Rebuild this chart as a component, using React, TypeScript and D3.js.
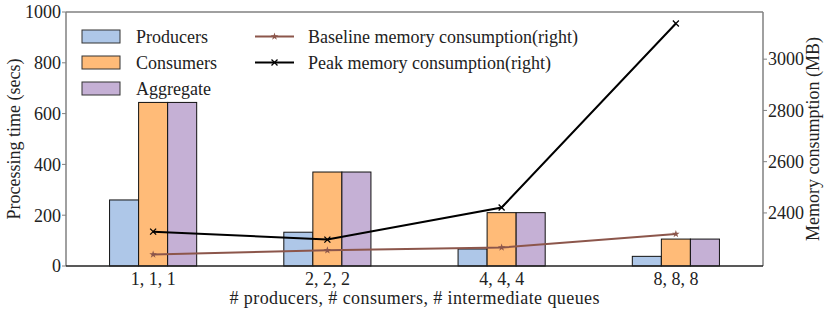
import React from "react";
import * as d3 from "d3";

const categories = ["1, 1, 1", "2, 2, 2", "4, 4, 4", "8, 8, 8"];
const producers = [260, 133, 67, 38];
const consumers = [644, 370, 210, 106];
const aggregate = [644, 370, 210, 106];
const baseline = [2238, 2254, 2265, 2318];
const peak = [2327, 2296, 2421, 3139];
const leftTicks = [0, 200, 400, 600, 800, 1000];
const rightTicks = [2400, 2600, 2800, 3000];

const FONT = "Liberation Serif, Times New Roman, DejaVu Serif, serif";
const W = 830, H = 314;
const L = 66, R = 763, T = 12, B = 266;
const FS = 18;

export default function App() {
  const x = d3.scaleLinear().domain([-0.5, 3.5]).range([L, R]);
  const yL = d3.scaleLinear().domain([0, 1000]).range([B, T]);
  const all = [...baseline, ...peak];
  const mn = d3.min(all)!, mx = d3.max(all)!;
  const pad = (mx - mn) * 0.05;
  const yR = d3.scaleLinear().domain([mn - pad, mx + pad]).range([B, T]);
  const bw = 1 / 6;
  const series = [
    { name: "Producers", vals: producers, color: "#aec7e8", off: -bw },
    { name: "Consumers", vals: consumers, color: "#ffbb78", off: 0 },
    { name: "Aggregate", vals: aggregate, color: "#c5b0d5", off: bw },
  ];
  const line = d3
    .line<number>()
    .x((_, i) => x(i))
    .y((d) => yR(d));
  const starPath = d3.symbol(d3.symbolStar, 18)()!;
  const xMark = (cx: number, cy: number, s = 3) =>
    `M${cx - s},${cy - s}L${cx + s},${cy + s}M${cx - s},${cy + s}L${cx + s},${cy - s}`;
  const spine = "#808080";
  const txt = { fontSize: FS, fill: "#222", style: { fontFamily: FONT } } as const;
  return (
    <svg width={W} height={H} style={{ display: "block", position: "absolute", left: 0, top: 0, fontFamily: FONT }}>
      <rect width={W} height={H} fill="#fff" />
      {series.map((s) =>
        s.vals.map((v, i) => (
          <rect
            key={s.name + i}
            x={x(i + s.off - bw / 2)}
            y={yL(v)}
            width={x(bw) - x(0)}
            height={yL(0) - yL(v)}
            fill={s.color}
            stroke="#111"
            strokeWidth={1}
          />
        ))
      )}
      <path d={line(baseline)!} fill="none" stroke="#8c564b" strokeWidth={2} />
      {baseline.map((v, i) => (
        <path key={"b" + i} d={starPath} transform={`translate(${x(i)},${yR(v)})`} fill="#8c564b" />
      ))}
      <path d={line(peak)!} fill="none" stroke="#000" strokeWidth={2} />
      {peak.map((v, i) => (
        <path key={"p" + i} d={xMark(x(i), yR(v))} stroke="#000" strokeWidth={1.3} />
      ))}
      <line x1={L} y1={T} x2={R} y2={T} stroke={spine} strokeWidth={1.5} />
      <line x1={L} y1={T} x2={L} y2={B} stroke={spine} strokeWidth={1.5} />
      <line x1={R} y1={T} x2={R} y2={B} stroke={spine} strokeWidth={1.5} />
      <line x1={L} y1={B} x2={R} y2={B} stroke="#222" strokeWidth={1.5} />
      {leftTicks.map((t) => (
        <g key={"l" + t}>
          <line x1={L - 4} x2={L} y1={yL(t)} y2={yL(t)} stroke={spine} strokeWidth={1} />
          <text x={L - 5} y={yL(t)} dy="0.35em" textAnchor="end" {...txt}>
            {t}
          </text>
        </g>
      ))}
      {rightTicks.map((t) => (
        <g key={"r" + t}>
          <line x1={R} x2={R + 4} y1={yR(t)} y2={yR(t)} stroke={spine} strokeWidth={1} />
          <text x={R + 5} y={yR(t)} dy="0.35em" textAnchor="start" {...txt}>
            {t}
          </text>
        </g>
      ))}
      {categories.map((c, i) => (
        <text key={c} x={x(i)} y={285} textAnchor="middle" {...txt}>
          {c}
        </text>
      ))}
      <text x={(L + R) / 2} y={304} textAnchor="middle" textLength={370} lengthAdjust="spacing" {...txt}>
        # producers, # consumers, # intermediate queues
      </text>
      <text transform={`translate(20,${(T + B) / 2}) rotate(-90)`} textAnchor="middle" {...txt}>
        Processing time (secs)
      </text>
      <text transform={`translate(819,${(T + B) / 2}) rotate(-90)`} textAnchor="middle" {...txt}>
        Memory consumption (MB)
      </text>
      {series.map((s, i) => (
        <g key={"lg" + s.name}>
          <rect x={82} y={30 + i * 26} width={38} height={13} fill={s.color} stroke="#333" strokeWidth={1} />
          <text x={136} y={36.5 + i * 26} dy="0.35em" {...txt}>
            {s.name}
          </text>
        </g>
      ))}
      <line x1={255} x2={294} y1={36.5} y2={36.5} stroke="#8c564b" strokeWidth={2} />
      <path d={starPath} transform="translate(274.5,36.5)" fill="#8c564b" />
      <text x={308} y={36.5} dy="0.35em" {...txt}>
        Baseline memory consumption(right)
      </text>
      <line x1={255} x2={294} y1={62.5} y2={62.5} stroke="#000" strokeWidth={2} />
      <path d={xMark(274.5, 62.5)} stroke="#000" strokeWidth={1.3} />
      <text x={308} y={62.5} dy="0.35em" {...txt}>
        Peak memory consumption(right)
      </text>
    </svg>
  );
}
